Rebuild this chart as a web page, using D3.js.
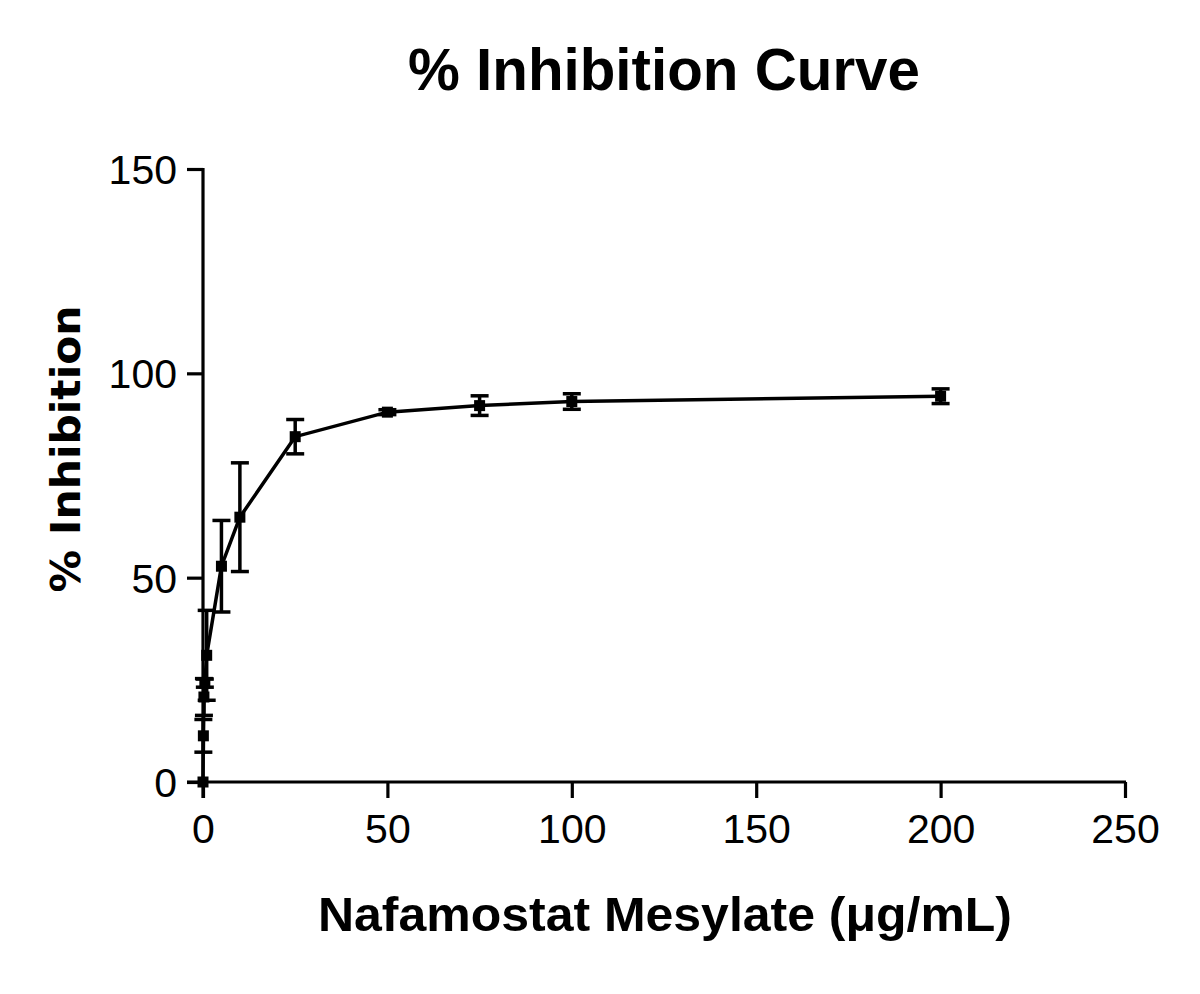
<!DOCTYPE html>
<html><head><meta charset="utf-8">
<script src="https://cdn.jsdelivr.net/npm/d3@7"></script>
<style>body{margin:0;background:#fff}svg{display:block}</style>
</head><body>
<svg id="c" width="1200" height="994"></svg>
<script>
const concentrations = [0, 0.1, 0.25, 0.5, 1, 5, 10, 25, 50, 75, 100, 200];
const inhibition     = [0, 11.3, 20.8, 24.2, 31.0, 52.8, 64.8, 84.5, 90.5, 92.1, 93.1, 94.4];
const errorSD        = [0, 4.0, 4.5, 1.0, 11.0, 11.2, 13.3, 4.2, 0.6, 2.4, 1.9, 1.8];
const xTicks = [0, 50, 100, 150, 200, 250];
const yTicks = [0, 50, 100, 150];

const svg = d3.select("#c");
const x = d3.scaleLinear().domain([0, 250]).range([203, 1125]);
const y = d3.scaleLinear().domain([0, 150]).range([782, 169]);

const gx = svg.append("g").attr("transform", "translate(0,782)")
  .call(d3.axisBottom(x).tickValues(xTicks).tickSize(16).tickPadding(16).tickSizeOuter(0));
const gy = svg.append("g").attr("transform", "translate(203,0)")
  .call(d3.axisLeft(y).tickValues(yTicks).tickSize(16).tickPadding(10).tickSizeOuter(0));
[gx, gy].forEach(g => {
  g.select(".domain").remove();
  g.selectAll(".tick line").attr("stroke", "#000").attr("stroke-width", 3.2);
  g.selectAll(".tick text").attr("fill", "#000")
    .style("font-family", "'Liberation Sans', Arial, sans-serif").style("font-size", "41px");
});
gx.selectAll(".tick text").attr("dy", "0.71em");
gy.selectAll(".tick text").attr("dy", "0.35em");
svg.append("line").attr("x1", 187).attr("x2", 1126).attr("y1", 782).attr("y2", 782)
  .attr("stroke", "#000").attr("stroke-width", 3.2);
svg.append("line").attr("x1", 203).attr("x2", 203).attr("y1", 168).attr("y2", 798)
  .attr("stroke", "#000").attr("stroke-width", 3.2);

const data = concentrations.map((c, i) => ({c, v: inhibition[i], e: errorSD[i]}));

svg.append("path").datum(data)
  .attr("d", d3.line().x(d => x(d.c)).y(d => y(d.v)))
  .attr("fill", "none").attr("stroke", "#000").attr("stroke-width", 3.5);

const eb = svg.append("g").attr("stroke", "#000").attr("stroke-width", 3.5);
data.filter(d => d.e > 0).forEach(d => {
  const cx = x(d.c);
  eb.append("line").attr("x1", cx).attr("x2", cx).attr("y1", y(d.v + d.e)).attr("y2", y(d.v - d.e));
  eb.append("line").attr("x1", cx - 9).attr("x2", cx + 9).attr("y1", y(d.v + d.e)).attr("y2", y(d.v + d.e));
  eb.append("line").attr("x1", cx - 9).attr("x2", cx + 9).attr("y1", y(d.v - d.e)).attr("y2", y(d.v - d.e));
});

svg.append("g").selectAll("rect").data(data).join("rect")
  .attr("x", d => x(d.c) - 5.5).attr("y", d => y(d.v) - 5.5)
  .attr("width", 11).attr("height", 11).attr("fill", "#000");

svg.append("text").attr("x", 664).attr("y", 90).attr("text-anchor", "middle")
  .attr("textLength", 512).attr("lengthAdjust", "spacingAndGlyphs")
  .style("font-family", "'Liberation Sans', Arial, sans-serif").style("font-weight", "bold")
  .style("font-size", "60px").text("% Inhibition Curve");
svg.append("text").attr("x", 665).attr("y", 931).attr("text-anchor", "middle")
  .attr("textLength", 694).attr("lengthAdjust", "spacingAndGlyphs")
  .style("font-family", "'Liberation Sans', Arial, sans-serif").style("font-weight", "bold")
  .style("font-size", "48px").text("Nafamostat Mesylate (μg/mL)");
svg.append("text").attr("transform", "translate(80,449) rotate(-90)").attr("text-anchor", "middle")
  .attr("textLength", 287).attr("lengthAdjust", "spacingAndGlyphs")
  .style("font-family", "'DejaVu Sans', Verdana, sans-serif").style("font-weight", "bold")
  .style("font-size", "40px").text("% Inhibition");
</script>
</body></html>
